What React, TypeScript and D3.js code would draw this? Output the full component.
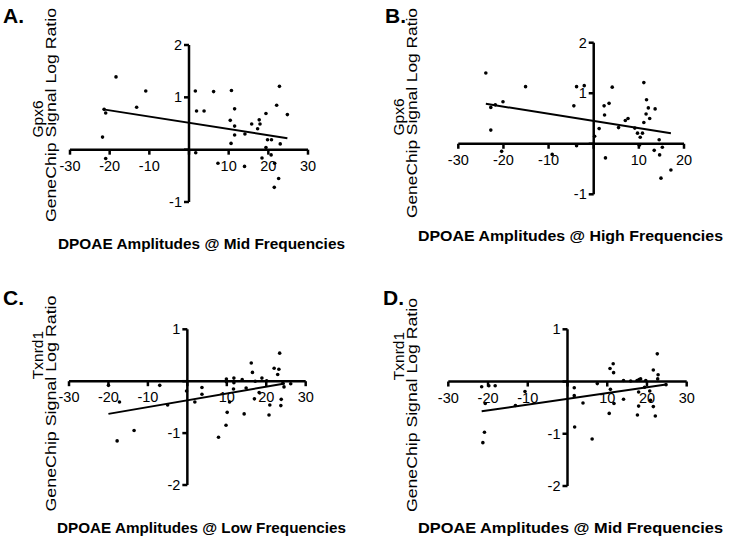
import React from "react";
import * as d3 from "d3";

// ---- Data ----
// Panel A: Gpx6 vs DPOAE mid frequencies
const aX = [-18.4, -10.9, -13.2, -21.4, -21.0, -21.8, -21.0, 1.6, 1.9, 3.8, 6.2, 1.7, 7.3, 10.7, 11.5, 10.4, 11.5, 11.5, 10.6, 14.1, 14.0, 15.8, 17.7, 17.9, 17.3, 19.4, 19.8, 20.8, 19.4, 18.4, 20.7, 21.6, 22.6, 21.5, 22.1, 22.8, 23.0, 24.8];
const aY = [1.39, 1.12, 0.81, 0.77, 0.70, 0.24, -0.17, 1.12, 0.74, 0.74, 1.11, -0.06, -0.26, 1.13, 0.78, 0.56, 0.45, 0.28, 0.12, 0.30, -0.32, 0.49, 0.57, 0.49, 0.40, 0.69, 0.19, 0.19, 0.04, -0.16, -0.10, -0.26, -0.55, -0.72, 0.85, 1.21, 0.11, 0.67];
const aFit = [-21.6, 0.513, -0.0119, 24.8]; // xStart, intercept, slope, xEnd

// Panel B: Gpx6 vs DPOAE high frequencies
const bX = [-23.9, -22.8, -21.8, -20.1, -22.8, -20.4, -15.1, -9.2, -4.4, -3.8, -3.8, -2.1, 0.2, 1.2, 2.4, 2.3, 3.4, 4.1, 2.6, 5.5, 7.0, 7.6, 9.1, 9.7, 10.3, 10.8, 10.1, 11.1, 11.1, 11.6, 11.7, 12.1, 12.4, 13.6, 13.4, 14.5, 14.6, 15.2, 14.9, 17.1];
const bY = [1.40, 0.72, 0.77, 0.83, 0.27, -0.15, 1.13, -0.21, 0.75, 1.13, -0.04, 1.15, 0.15, 0.30, 0.57, 0.75, 0.80, 1.12, -0.28, 0.32, 0.46, 0.50, 0.31, 0.21, 0.13, 0.21, -0.03, 1.21, 0.42, 0.59, 0.87, 0.71, 0.50, 0.69, -0.13, 0.08, -0.22, -0.07, -0.68, -0.52];
const bFit = [-23.9, 0.452, -0.01415, 17.1];

// Panel C: Txnrd1 vs DPOAE low frequencies
const cX = [-20.0, -17.2, -17.8, -13.5, -7.0, -5.0, -0.2, 1.9, 3.7, 3.7, 7.9, 9.9, 9.9, 9.8, 10.1, 10.7, 11.7, 11.8, 11.8, 13.9, 14.4, 14.9, 16.2, 16.5, 17.0, 17.2, 18.9, 18.2, 20.1, 20.7, 20.9, 22.0, 22.9, 23.2, 23.4, 23.8, 23.7, 24.5, 24.2, 26.2];
const cY = [-0.08, -0.40, -1.15, -0.95, -0.08, -0.46, -0.19, -0.40, -0.12, -0.25, -1.08, 0.04, -0.01, -0.85, -0.60, -0.40, -0.15, 0.06, -0.03, 0.03, -0.63, -0.13, 0.35, 0.17, -0.34, 0.0, 0.06, -0.22, 0.01, -0.65, -0.46, 0.25, 0.13, 0.23, 0.54, -0.35, -0.47, -0.11, -0.04, -0.05];
const cFit = [-20.0, -0.368, 0.01309, 24.7];

// Panel D: Txnrd1 vs DPOAE mid frequencies
const dX = [-21.6, -19.8, -18.2, -20.7, -20.9, -21.3, -10.7, -13.1, 1.7, 1.7, 1.8, 3.9, 6.2, 7.5, 10.5, 10.7, 11.5, 11.6, 10.8, 11.7, 14.1, 14.1, 15.9, 17.5, 18.0, 18.4, 17.9, 17.9, 17.6, 19.7, 19.4, 20.7, 20.9, 21.6, 21.6, 22.1, 22.6, 22.8, 22.7, 24.8];
const dY = [-0.10, -0.08, -0.08, -0.42, -0.97, -1.17, -0.19, -0.46, -0.12, -0.27, -0.87, -0.41, -1.10, -0.04, -0.61, 0.25, 0.34, 0.17, -0.15, -0.42, 0.02, -0.34, 0.01, 0.02, 0.04, 0.05, -0.20, -0.47, -0.64, 0.02, -0.11, -0.18, -0.36, 0.22, -0.48, -0.66, 0.53, 0.13, 0.05, -0.06];
const dFit = [-21.6, -0.331, 0.01106, 24.8];

const xTicksWide = [-30, -20, -10, 0, 10, 20, 30];
const xTicksB = [-30, -20, -10, 0, 10, 20];
const yTicksGpx = [-1, 0, 1, 2];
const yTicksTxn = [-2, -1, 0, 1];

const letters = ["A.", "B.", "C.", "D."];
const genes = ["Gpx6", "Gpx6", "Txnrd1", "Txnrd1"];
const yTitle = "GeneChip Signal Log Ratio";
const xTitles = [
  "DPOAE Amplitudes @ Mid Frequencies",
  "DPOAE Amplitudes @ High Frequencies",
  "DPOAE Amplitudes @ Low Frequencies",
  "DPOAE Amplitudes @ Mid Frequencies",
];

const FONT = "'Liberation Sans', Arial, Helvetica, sans-serif";

type PanelProps = {
  xs: number[]; ys: number[]; fit: number[];
  xDomain: [number, number]; xRange: [number, number];
  yDomain: [number, number]; yRange: [number, number];
  xTicks: number[]; yTicks: number[];
  letter: string; letterPos: [number, number];
  gene: string; genePos: [number, number];
  ytPos: [number, number]; ytLen: number;
  xTitle: string; xtPos: [number, number]; xtLen: number;
};

function Panel(p: PanelProps) {
  const x = d3.scaleLinear().domain(p.xDomain).range(p.xRange);
  const y = d3.scaleLinear().domain(p.yDomain).range(p.yRange);
  const x0 = x(0);
  const y0 = y(0);
  const fitLine = d3.line<number>().x((v) => x(v)).y((v) => y(p.fit[1] + p.fit[2] * v));
  return (
    <g>
      <text x={p.letterPos[0]} y={p.letterPos[1]} fontFamily={FONT} fontWeight="bold" fontSize={21}>{p.letter}</text>
      <text transform={`translate(${p.genePos[0]},${p.genePos[1]}) rotate(-90)`} textAnchor="middle" fontFamily={FONT} fontSize={15.5}>{p.gene}</text>
      <text transform={`translate(${p.ytPos[0]},${p.ytPos[1]}) rotate(-90)`} textAnchor="middle" fontFamily={FONT} fontSize={15}
        textLength={p.ytLen} lengthAdjust="spacingAndGlyphs">{yTitle}</text>
      <text x={p.xtPos[0]} y={p.xtPos[1]} textAnchor="middle" fontFamily={FONT} fontWeight="bold" fontSize={15.3}
        textLength={p.xtLen} lengthAdjust="spacingAndGlyphs">{p.xTitle}</text>
      {/* axes */}
      <line x1={x(p.xDomain[0])} x2={x(p.xDomain[1])} y1={y0} y2={y0} stroke="#000" strokeWidth={2.5} />
      <line x1={x0} x2={x0} y1={y(p.yDomain[0])} y2={y(p.yDomain[1])} stroke="#000" strokeWidth={2.5} />
      {p.xTicks.map((t) => (
        <g key={"xt" + t}>
          <line x1={x(t)} x2={x(t)} y1={y0} y2={y0 + 5} stroke="#000" strokeWidth={2.5} />
          {t !== 0 && (
            <text x={x(t)} y={y0 + 21} textAnchor="middle" fontFamily={FONT} fontSize={14.5}>{t}</text>
          )}
        </g>
      ))}
      {p.yTicks.map((t) => (
        <g key={"yt" + t}>
          <line x1={x0 - 5} x2={x0} y1={y(t)} y2={y(t)} stroke="#000" strokeWidth={2.5} />
          {t !== 0 && (
            <text x={x0 - 7} y={y(t) + 5} textAnchor="end" fontFamily={FONT} fontSize={14.5}>{t}</text>
          )}
        </g>
      ))}
      {p.xs.map((v, i) => (
        <circle key={i} cx={x(v)} cy={y(p.ys[i])} r={1.8} fill="#000" />
      ))}
      <path d={fitLine([p.fit[0], p.fit[3]]) || ""} fill="none" stroke="#000" strokeWidth={2} />
    </g>
  );
}

export default function App() {
  return (
    <svg width={729} height={544} style={{ position: "absolute", left: 0, top: 0, background: "#fff" }}>
      <rect width={729} height={544} fill="#fff" />
      <Panel xs={aX} ys={aY} fit={aFit} xDomain={[-30, 30]} xRange={[70, 308]} yDomain={[-1, 2]} yRange={[202, 45]}
        xTicks={xTicksWide} yTicks={yTicksGpx} letter={letters[0]} letterPos={[3, 23]} gene={genes[0]} genePos={[42.5, 119]}
        ytPos={[55.5, 115]} ytLen={214} xTitle={xTitles[0]} xtPos={[201.5, 249]} xtLen={287} />
      <Panel xs={bX} ys={bY} fit={bFit} xDomain={[-30, 20]} xRange={[458.3, 684]} yDomain={[-1, 2]} yRange={[194.3, 42.7]}
        xTicks={xTicksB} yTicks={yTicksGpx} letter={letters[1]} letterPos={[385, 23]} gene={genes[1]} genePos={[404, 117]}
        ytPos={[416.5, 113]} ytLen={210} xTitle={xTitles[1]} xtPos={[570.5, 241]} xtLen={305} />
      <Panel xs={cX} ys={cY} fit={cFit} xDomain={[-30, 30]} xRange={[69, 305.7]} yDomain={[-2, 1]} yRange={[485, 329.3]}
        xTicks={xTicksWide} yTicks={yTicksTxn} letter={letters[2]} letterPos={[3, 305]} gene={genes[2]} genePos={[42.5, 355]}
        ytPos={[55.5, 403.5]} ytLen={216} xTitle={xTitles[2]} xtPos={[201.5, 533]} xtLen={289} />
      <Panel xs={dX} ys={dY} fit={dFit} xDomain={[-30, 30]} xRange={[448.3, 686.7]} yDomain={[-2, 1]} yRange={[486, 329.3]}
        xTicks={xTicksWide} yTicks={yTicksTxn} letter={letters[3]} letterPos={[383, 305]} gene={genes[3]} genePos={[404, 356]}
        ytPos={[416.5, 405]} ytLen={214} xTitle={xTitles[3]} xtPos={[570.5, 533]} xtLen={305} />
    </svg>
  );
}
